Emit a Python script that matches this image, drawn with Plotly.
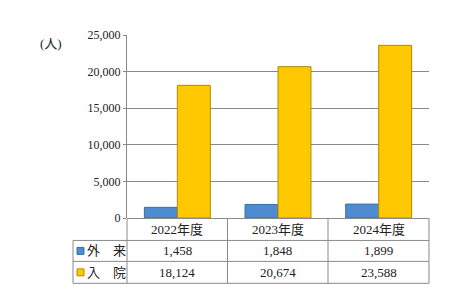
import plotly.graph_objects as go

categories = ["2022年度", "2023年度", "2024年度"]
series_names = ["外　来", "入　院"]
outpatient = [1458, 1848, 1899]
inpatient = [18124, 20674, 23588]
tick_vals = [0, 5000, 10000, 15000, 20000, 25000]

W, H = 449, 291
L, R, T, B = 127, 20, 35, 72.5
PW = W - L - R
PH = H - T - B

def px(x):
    return (x - L) / PW

def py(y):
    return (H - B - y) / PH

blue = "#4F8BD0"
yellow = "#FFC800"
colors = [blue, yellow]
outlines = ["#3A6FA8", "#B08A00"]
serif = "Liberation Serif, Noto Sans CJK JP"

fig = go.Figure()
for name, vals, c, oc in zip(series_names, [outpatient, inpatient], colors, outlines):
    fig.add_trace(go.Bar(x=categories, y=vals, name=name,
                         marker=dict(color=c, line=dict(color=oc, width=1))))

fig.update_layout(
    width=W, height=H,
    margin=dict(l=L, r=R, t=T, b=B, pad=0),
    paper_bgcolor="white", plot_bgcolor="white",
    barmode="group", bargap=0.345, bargroupgap=0,
    showlegend=False,
    font=dict(family=serif, size=12, color="#222"),
)
fig.update_xaxes(showticklabels=False, showgrid=False, showline=False, ticks="",
                 range=[-0.5, 2.5])
fig.update_yaxes(range=[0, 25000], tickvals=tick_vals, tickformat=",",
                 showgrid=True, gridcolor="#888", gridwidth=1,
                 showline=True, linecolor="#888", linewidth=1,
                 ticks="outside", ticklen=3, tickcolor="#888",
                 tickfont=dict(family=serif, size=12, color="#222"),
                 zeroline=False)

line_col = "#8a8a8a"
col_edges = [127, 227.5, 328, 429]
row_edges = [219, 241, 262, 284]
shapes = []
# horizontal lines
shapes.append(dict(type="line", xref="paper", yref="paper", x0=px(127), x1=px(429),
                   y0=py(219), y1=py(219), line=dict(color=line_col, width=1)))
for yy in row_edges[1:]:
    shapes.append(dict(type="line", xref="paper", yref="paper", x0=px(73), x1=px(429),
                       y0=py(yy), y1=py(yy), line=dict(color=line_col, width=1)))
# vertical lines
for xx in col_edges:
    shapes.append(dict(type="line", xref="paper", yref="paper", x0=px(xx), x1=px(xx),
                       y0=py(219), y1=py(284), line=dict(color=line_col, width=1)))
shapes.append(dict(type="line", xref="paper", yref="paper", x0=px(73), x1=px(73),
                   y0=py(241), y1=py(284), line=dict(color=line_col, width=1)))

annotations = []
centers = [(col_edges[i] + col_edges[i + 1]) / 2 for i in range(3)]
for cx, cat in zip(centers, categories):
    annotations.append(dict(x=px(cx), y=py(230), xref="paper", yref="paper", text=cat,
                            showarrow=False, xanchor="center", yanchor="middle",
                            font=dict(family=serif, size=13, color="#222")))
for r, (name, vals, c, oc) in enumerate(zip(series_names, [outpatient, inpatient], colors, outlines)):
    yc = (row_edges[r + 1] + row_edges[r + 2]) / 2
    shapes.append(dict(type="rect", xref="paper", yref="paper",
                       x0=px(77), x1=px(84), y0=py(yc - 3.5), y1=py(yc + 3.5),
                       fillcolor=c, line=dict(color=oc, width=1)))
    annotations.append(dict(x=px(85), y=py(yc), xref="paper", yref="paper", text=name,
                            showarrow=False, xanchor="left", yanchor="middle",
                            font=dict(family=serif, size=13, color="#222")))
    for cx, v in zip(centers, vals):
        annotations.append(dict(x=px(cx), y=py(yc), xref="paper", yref="paper",
                                text=f"{v:,}", showarrow=False, xanchor="center",
                                yanchor="middle",
                                font=dict(family=serif, size=13, color="#222")))
annotations.append(dict(x=px(51), y=py(44), xref="paper", yref="paper", text="(人)",
                        showarrow=False, xanchor="center", yanchor="middle",
                        font=dict(family=serif, size=13, color="#222")))

fig.update_layout(shapes=shapes, annotations=annotations)
fig.write_html("out.html")
